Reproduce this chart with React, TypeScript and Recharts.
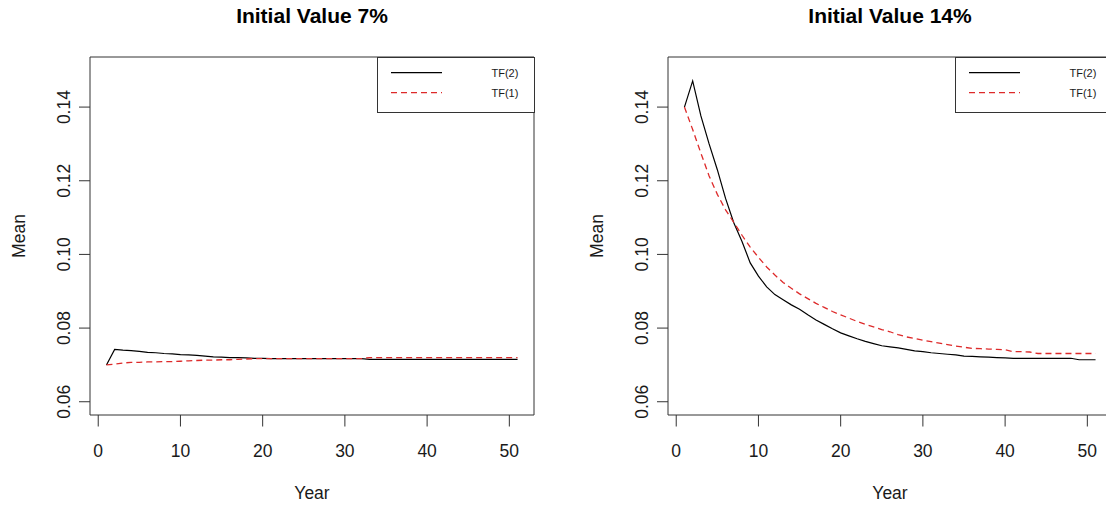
import React from 'react';
import { LineChart, Line, XAxis, YAxis, ReferenceArea, Legend, Label } from 'recharts';

// ---------- data ----------
const years = [
  1, 2, 3, 4, 5, 6, 7, 8, 9, 10,
  11, 12, 13, 14, 15, 16, 17, 18, 19, 20,
  21, 22, 23, 24, 25, 26, 27, 28, 29, 30,
  31, 32, 33, 34, 35, 36, 37, 38, 39, 40,
  41, 42, 43, 44, 45, 46, 47, 48, 49, 50, 51,
];

// Initial value 7%
const tf2Initial7 = [
  0.0700, 0.0742, 0.0740, 0.0739, 0.0737, 0.0734, 0.0733, 0.0731, 0.0730, 0.0728,
  0.0727, 0.0726, 0.0724, 0.0722, 0.0721, 0.0720, 0.0720, 0.0719, 0.0718, 0.0718,
  0.0717, 0.0717, 0.0717, 0.0717, 0.0717, 0.0717, 0.0717, 0.0717, 0.0717, 0.0717,
  0.0717, 0.0717, 0.0715, 0.0715, 0.0715, 0.0715, 0.0715, 0.0715, 0.0715, 0.0715,
  0.0715, 0.0715, 0.0715, 0.0715, 0.0715, 0.0715, 0.0715, 0.0715, 0.0715, 0.0715, 0.0715,
];
const tf1Initial7 = [
  0.0700, 0.0702, 0.0705, 0.0707, 0.0707, 0.0708, 0.0708, 0.0709, 0.0709, 0.0710,
  0.0711, 0.0712, 0.0713, 0.0713, 0.0714, 0.0714, 0.0715, 0.0716, 0.0717, 0.0717,
  0.0717, 0.0717, 0.0717, 0.0717, 0.0717, 0.0717, 0.0717, 0.0717, 0.0717, 0.0717,
  0.0717, 0.0717, 0.0720, 0.0720, 0.0720, 0.0720, 0.0720, 0.0720, 0.0720, 0.0720,
  0.0720, 0.0720, 0.0720, 0.0720, 0.0720, 0.0720, 0.0720, 0.0720, 0.0720, 0.0720, 0.0720,
];

// Initial value 14%
const tf2Initial14 = [
  0.1400, 0.1471, 0.1376, 0.1300, 0.1230, 0.1152, 0.1086, 0.1035, 0.0977, 0.0941,
  0.0912, 0.0891, 0.0877, 0.0863, 0.0851, 0.0836, 0.0822, 0.0810, 0.0798, 0.0787,
  0.0779, 0.0771, 0.0764, 0.0758, 0.0752, 0.0749, 0.0746, 0.0742, 0.0738, 0.0736,
  0.0733, 0.0731, 0.0729, 0.0727, 0.0724, 0.0723, 0.0722, 0.0721, 0.0720, 0.0719,
  0.0718, 0.0718, 0.0718, 0.0718, 0.0718, 0.0718, 0.0718, 0.0718, 0.0714, 0.0714, 0.0714,
];
const tf1Initial14 = [
  0.1400, 0.1339, 0.1275, 0.1213, 0.1163, 0.1121, 0.1087, 0.1052, 0.1020, 0.0992,
  0.0966, 0.0944, 0.0924, 0.0908, 0.0893, 0.0880, 0.0867, 0.0856, 0.0845, 0.0836,
  0.0827, 0.0818, 0.0810, 0.0803, 0.0796, 0.0790, 0.0782, 0.0776, 0.0772, 0.0767,
  0.0763, 0.0759, 0.0755, 0.0751, 0.0748, 0.0745, 0.0744, 0.0743, 0.0742, 0.0741,
  0.0736, 0.0736, 0.0735, 0.0731, 0.0731, 0.0731, 0.0731, 0.0731, 0.0731, 0.0731, 0.0731,
];

const xTicks = [0, 10, 20, 30, 40, 50];
const yTicks = [0.06, 0.08, 0.1, 0.12, 0.14];
const titles = ['Initial Value 7%', 'Initial Value 14%'];
const seriesNames = ['TF(2)', 'TF(1)'];
const xLabel = 'Year';
const yLabel = 'Mean';

// ---------- styling / layout ----------
const FONT = '"Liberation Sans", Arial, Helvetica, sans-serif';
const X_DOMAIN: [number, number] = [-1, 53];
const Y_DOMAIN: [number, number] = [0.0564, 0.1536];
const PANEL_W = 580;
const PANEL_H = 508;
const PLOT_LEFT = 90;
const PLOT_RIGHT = 534;
const PLOT_TOP = 57;
const PLOT_BOTTOM = 415;
const AXIS_COLOR = '#333';
const TEXT_COLOR = '#1a1a1a';
const RED = '#dd2a2a';
const DASH = '6 4';

const seriesStyles = [
  { key: 'tf2', color: '#000', dash: undefined as string | undefined },
  { key: 'tf1', color: RED, dash: DASH },
];

const XTick = (props: any) => {
  const { x, payload } = props;
  return (
    <text x={x} y={456.5} textAnchor="middle" fontSize={17.5} fontFamily={FONT} fill={TEXT_COLOR}>
      {payload.value}
    </text>
  );
};

const YTick = (props: any) => {
  const { y, payload } = props;
  const bx = 70;
  return (
    <text
      x={bx}
      y={y}
      transform={`rotate(-90 ${bx} ${y})`}
      textAnchor="middle"
      fontSize={17.5}
      fontFamily={FONT}
      fill={TEXT_COLOR}
    >
      {Number(payload.value).toFixed(2)}
    </text>
  );
};

const LegendBox = () => (
  <svg width={158} height={56} style={{ display: 'block', overflow: 'visible' }}>
    <rect x={0.5} y={0.5} width={157} height={55} fill="#fff" stroke={AXIS_COLOR} strokeWidth={1} />
    {seriesNames.map((name, i) => {
      const ly = 15.7 + i * 20;
      const st = seriesStyles[i];
      return (
        <g key={name}>
          <line x1={14} x2={65} y1={ly} y2={ly} stroke={st.color} strokeWidth={1.3} strokeDasharray={st.dash} />
          <text x={114.5} y={ly + 4} fontSize={11} fontFamily={FONT} fill={TEXT_COLOR}>
            {name}
          </text>
        </g>
      );
    })}
  </svg>
);

const MeanLabel = () => {
  const x = 24.5;
  const y = (PLOT_TOP + PLOT_BOTTOM) / 2;
  return (
    <text x={x} y={y} transform={`rotate(-90 ${x} ${y})`} textAnchor="middle" fontSize={17.5} fontFamily={FONT} fill={TEXT_COLOR}>
      {yLabel}
    </text>
  );
};

function Panel({ left, title, tf2, tf1 }: { left: number; title: string; tf2: number[]; tf1: number[] }) {
  const data = years.map((yr, i) => ({ year: yr, tf2: tf2[i], tf1: tf1[i] }));
  return (
    <div style={{ position: 'absolute', left, top: 0, width: PANEL_W, height: PANEL_H }}>
      <div
        style={{
          position: 'absolute',
          left: PLOT_LEFT,
          width: PLOT_RIGHT - PLOT_LEFT,
          top: 4.7,
          fontFamily: FONT,
          fontWeight: 'bold',
          fontSize: 21,
          lineHeight: '21px',
          textAlign: 'center',
          color: '#000',
          whiteSpace: 'nowrap',
        }}
      >
        {title}
      </div>
      <LineChart
        width={PANEL_W}
        height={PANEL_H}
        data={data}
        margin={{ top: PLOT_TOP, right: PANEL_W - PLOT_RIGHT, bottom: 0, left: 0 }}
        style={{ position: 'absolute', left: 0, top: 0 }}
      >
        <XAxis
          dataKey="year"
          type="number"
          domain={X_DOMAIN}
          ticks={xTicks}
          allowDataOverflow
          axisLine={false}
          tickLine={{ stroke: AXIS_COLOR, strokeWidth: 1 }}
          tickSize={11.5}
          tick={<XTick />}
          height={PANEL_H - PLOT_BOTTOM}
          interval={0}
        >
          <Label value={xLabel} position="insideBottom" offset={9} fontSize={17.5} fontFamily={FONT} fill={TEXT_COLOR} />
        </XAxis>
        <YAxis
          type="number"
          domain={Y_DOMAIN}
          ticks={yTicks}
          allowDataOverflow
          axisLine={false}
          tickLine={{ stroke: AXIS_COLOR, strokeWidth: 1 }}
          tickSize={11}
          tick={<YTick />}
          width={PLOT_LEFT}
          interval={0}
        >
          <Label content={<MeanLabel />} />
        </YAxis>
        <ReferenceArea
          x1={X_DOMAIN[0]}
          x2={X_DOMAIN[1]}
          y1={Y_DOMAIN[0]}
          y2={Y_DOMAIN[1]}
          fill="none"
          fillOpacity={0}
          stroke={AXIS_COLOR}
          strokeWidth={1}
          ifOverflow="visible"
        />
        <Line
          type="linear"
          dataKey="tf2"
          name={seriesNames[0]}
          stroke={seriesStyles[0].color}
          strokeWidth={1.2}
          dot={false}
          activeDot={false}
          isAnimationActive={false}
        />
        <Line
          type="linear"
          dataKey="tf1"
          name={seriesNames[1]}
          stroke={seriesStyles[1].color}
          strokeWidth={1.3}
          strokeDasharray={DASH}
          dot={false}
          activeDot={false}
          isAnimationActive={false}
        />
        <Legend
          layout="horizontal"
          verticalAlign="middle"
          align="center"
          content={<LegendBox />}
          wrapperStyle={{ position: 'absolute', left: 377, top: PLOT_TOP, width: 158, height: 56, margin: 0, padding: 0 }}
        />
      </LineChart>
    </div>
  );
}

export default function App() {
  return (
    <div
      style={{
        position: 'absolute',
        left: 0,
        top: 0,
        width: 1106,
        height: 508,
        overflow: 'hidden',
        background: '#fff',
      }}
    >
      <Panel left={0} title={titles[0]} tf2={tf2Initial7} tf1={tf1Initial7} />
      <Panel left={578} title={titles[1]} tf2={tf2Initial14} tf1={tf1Initial14} />
    </div>
  );
}
